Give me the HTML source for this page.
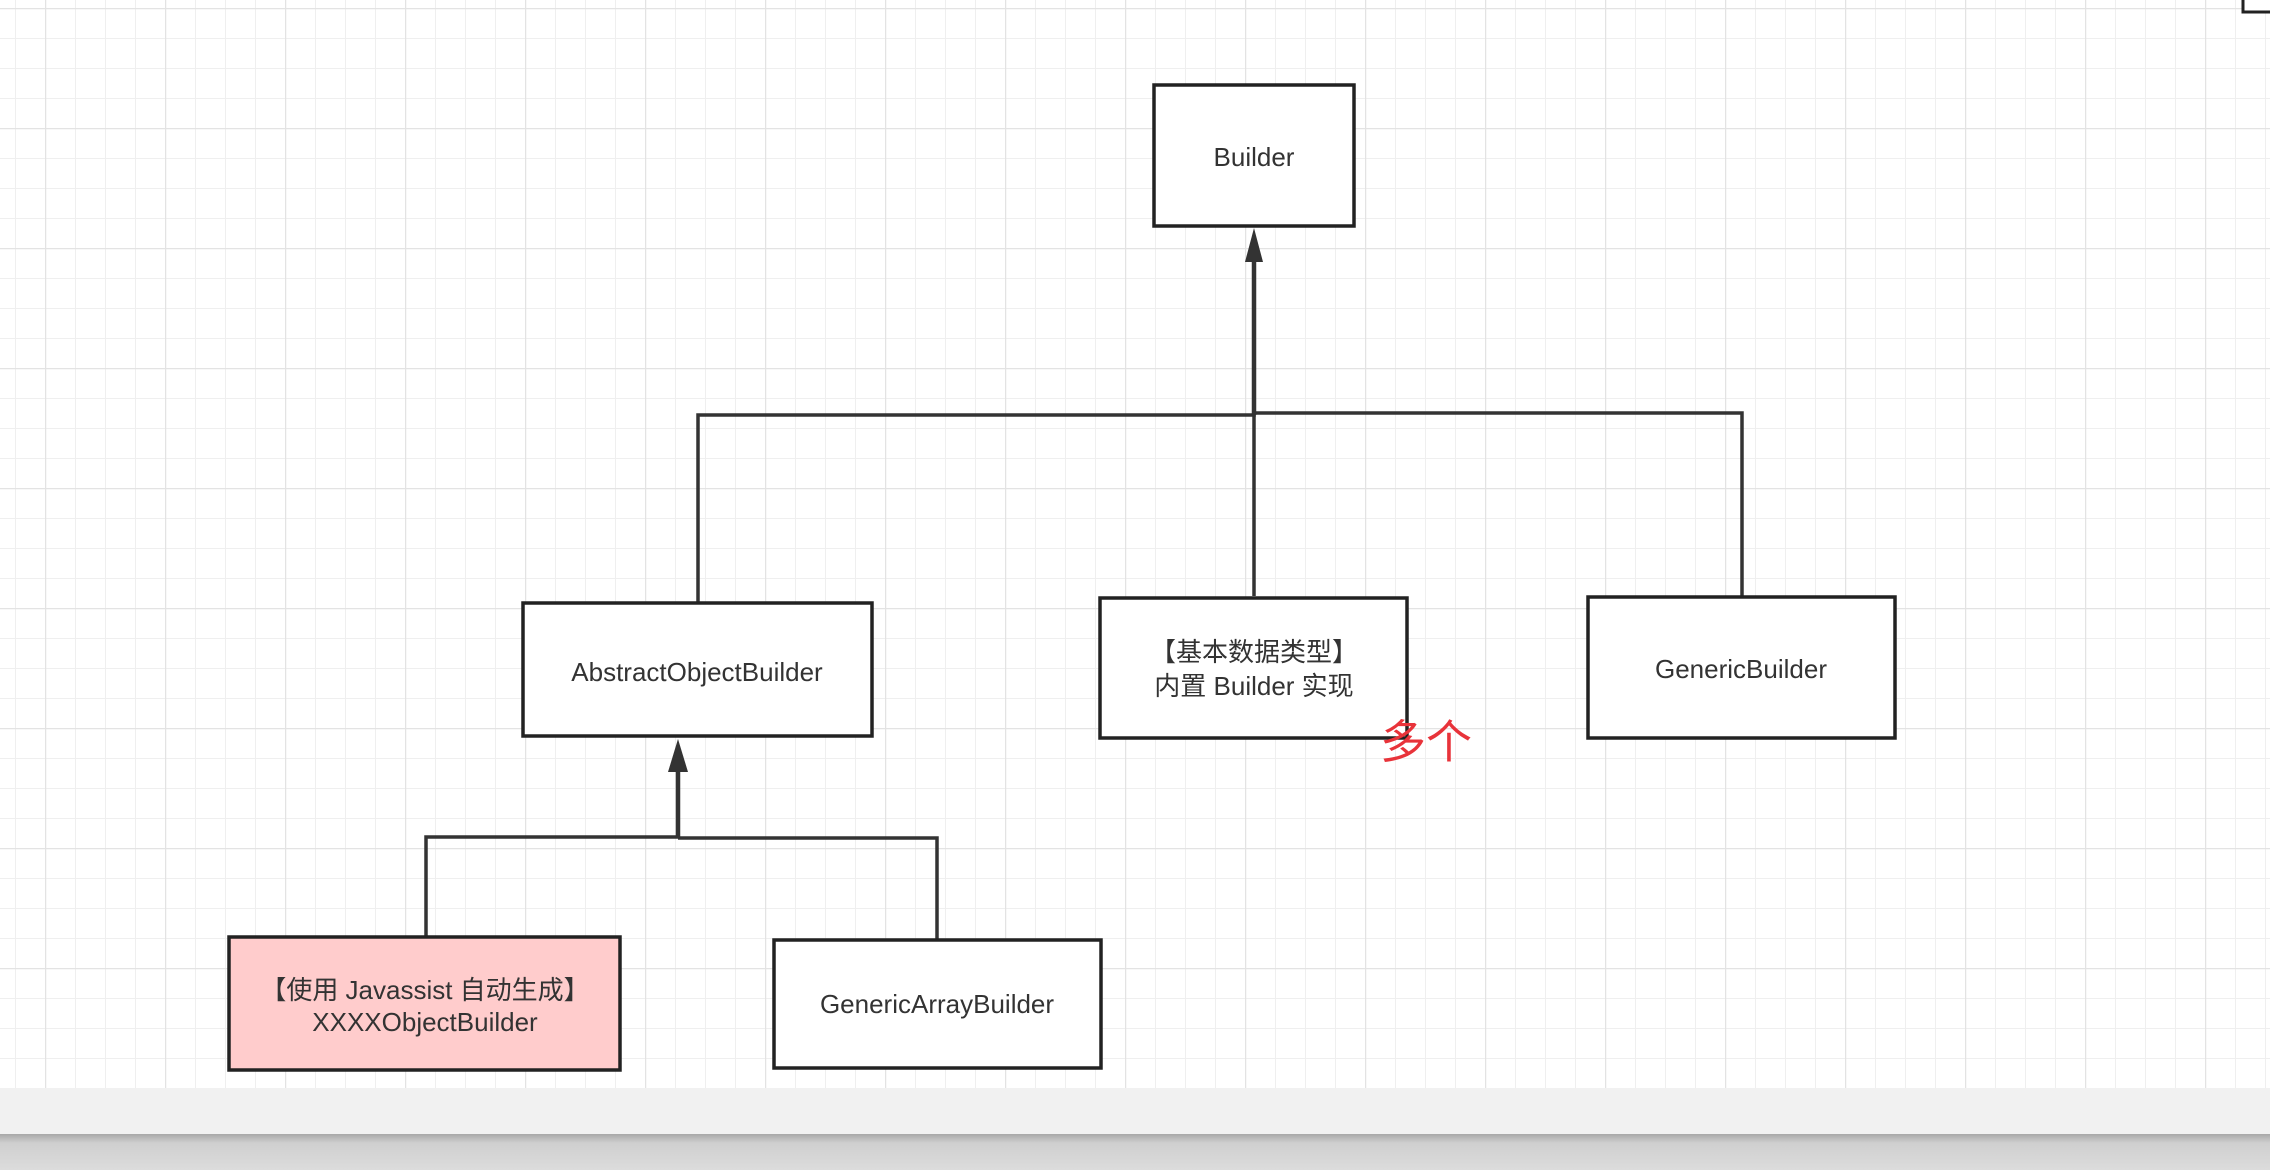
<!DOCTYPE html>
<html><head><meta charset="utf-8"><style>
html,body{margin:0;padding:0;width:2270px;height:1170px;overflow:hidden;background:#fff}
svg{display:block}
text{font-family:"Liberation Sans","Noto Sans CJK SC",sans-serif;fill:#333}
</style></head><body>
<svg width="2270" height="1170" viewBox="0 0 2270 1170" xmlns="http://www.w3.org/2000/svg">
<defs>
<pattern id="minor" x="15" y="8" width="30" height="30" patternUnits="userSpaceOnUse">
<path d="M0 0V30M0 0H30" stroke="#efefef" stroke-width="2" fill="none"/>
</pattern>
<pattern id="major" x="45" y="8" width="120" height="120" patternUnits="userSpaceOnUse">
<path d="M0 0V120M0 0H120" stroke="#e3e3e3" stroke-width="2.5" fill="none"/>
</pattern>
<linearGradient id="sh" x1="0" y1="0" x2="0" y2="1">
<stop offset="0" stop-color="#a8a8a8"/><stop offset="0.25" stop-color="#cfcfcf"/><stop offset="1" stop-color="#dcdcdc"/>
</linearGradient>
</defs>
<rect width="2270" height="1088" fill="#fff"/>
<rect width="2270" height="1088" fill="url(#minor)"/>
<rect width="2270" height="1088" fill="url(#major)"/>

<rect x="2243" y="-20" width="60" height="32" fill="#fff" stroke="#222" stroke-width="3"/>

<g stroke="#333" fill="none" stroke-width="3.5">
<path d="M1254 262V415H698V602"/>
<path d="M1254 413H1742V596"/>
<path d="M1254 415V596"/>
<path d="M678 770V837H426V937"/>
<path d="M678 838H937V940"/>
</g>
<path d="M1254 228L1245 262H1263Z" fill="#333"/>
<path d="M678 739L668 772H688Z" fill="#333"/>
<line x1="1254" y1="260" x2="1254" y2="415" stroke="#333" stroke-width="4.5"/>
<line x1="678" y1="770" x2="678" y2="838" stroke="#333" stroke-width="4.5"/>

<g stroke="#222" stroke-width="3.5" fill="#fff">
<rect x="1154" y="85" width="200" height="141"/>
<rect x="523" y="603" width="349" height="133"/>
<rect x="1100" y="598" width="307" height="140"/>
<rect x="1588" y="597" width="307" height="141"/>
<rect x="229" y="937" width="391" height="133" fill="#ffcccc"/>
<rect x="774" y="940" width="327" height="128"/>
</g>

<text x="1254" y="166" text-anchor="middle" style="font-size:26px">Builder</text>
<text x="697" y="681" text-anchor="middle" style="font-size:26px">AbstractObjectBuilder</text>
<text x="1254" y="661" text-anchor="middle" style="font-size:26px">【基本数据类型】</text>
<text x="1254" y="695" text-anchor="middle" style="font-size:26px">内置 Builder 实现</text>
<text x="1741" y="678" text-anchor="middle" style="font-size:26px">GenericBuilder</text>
<text x="425" y="999" text-anchor="middle" style="font-size:26px">【使用 Javassist 自动生成】</text>
<text x="425" y="1031" text-anchor="middle" style="font-size:26px">XXXXObjectBuilder</text>
<text x="937" y="1013" text-anchor="middle" style="font-size:26px">GenericArrayBuilder</text>
<text x="1380" y="758" style="font-size:46px;fill:#e8333a">多个</text>

<rect x="0" y="1088" width="2270" height="46" fill="#f1f1f1"/>
<rect x="0" y="1134" width="2270" height="36" fill="url(#sh)"/>
</svg>
</body></html>
